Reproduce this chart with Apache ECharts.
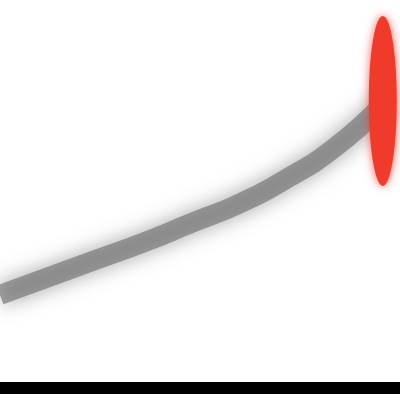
<!DOCTYPE html>
<html>
<head>
<meta charset="utf-8">
<script src="https://cdn.jsdelivr.net/npm/echarts@6/dist/echarts.min.js"></script>
<style>
html,body{margin:0;padding:0;background:#fff;}
#chart{width:400px;height:400px;}
</style>
</head>
<body>
<div id="chart"></div>
<script>
var steps = [0, 1, 2, 3, 4, 5, 6, 7, 8];
var lineValues = [24, 28.5, 33, 37.5, 42.5, 47.5, 54, 62, 73];
var lastStep = 8;
var lastValue = 74;

var lineData = steps.map(function(s, i){ return [s, lineValues[i]]; });

var dom = document.getElementById('chart');
var myChart = echarts.init(dom);
myChart.setOption({
	animation: false,
	grid: {left: 0, right: 0, top: 0, bottom: 12},
	xAxis: {
		type: 'value',
		min: 0,
		max: 8.36,
		axisLine: {lineStyle: {color: '#000', width: 12}},
		axisTick: {show: false},
		axisLabel: {show: false},
		splitLine: {show: false}
	},
	yAxis: {
		type: 'value',
		min: 0,
		max: 100,
		axisLine: {show: false},
		axisTick: {show: false},
		axisLabel: {show: false},
		splitLine: {show: false}
	},
	series: [
		{
			type: 'line',
			data: lineData,
			smooth: true,
			symbol: 'none',
			z: 2,
			lineStyle: {
				color: 'rgba(105,105,105,0.6)',
				width: 20,
				shadowBlur: 20,
				shadowColor: 'rgba(90,90,90,0.9)'
			}
		},
		{
			type: 'scatter',
			data: [[lastStep, lastValue]],
			symbol: 'circle',
			symbolSize: [28, 170],
			z: 5,
			itemStyle: {
				color: '#ef3a2c',
				opacity: 1,
				shadowBlur: 10,
				shadowColor: 'rgba(240,60,45,0.8)'
			}
		}
	]
});
</script>
</body>
</html>
